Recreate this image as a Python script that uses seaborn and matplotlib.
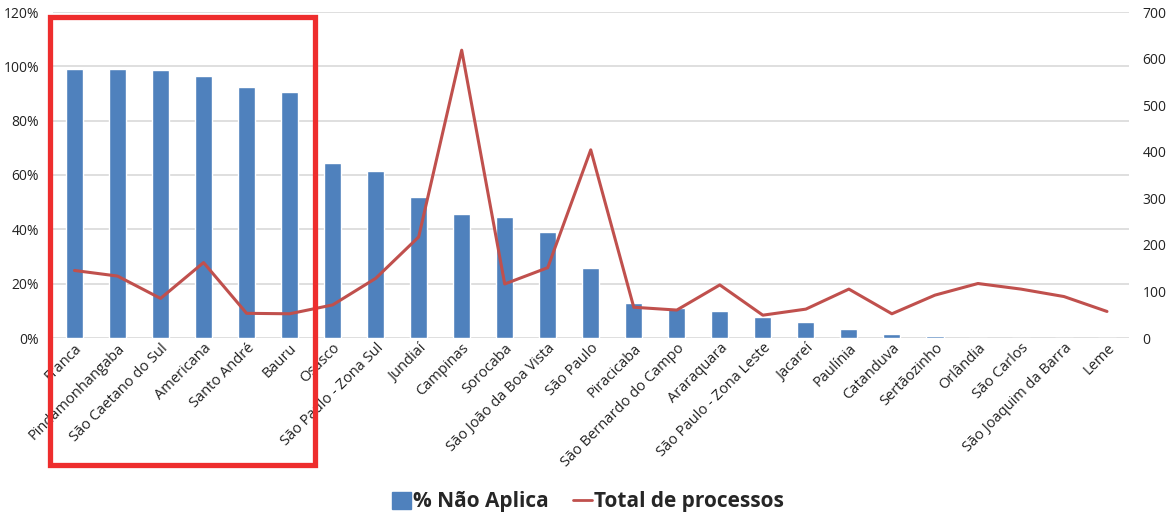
import matplotlib
matplotlib.use("Agg")
import matplotlib.pyplot as plt
import seaborn as sns
import numpy as np
import pandas as pd
from matplotlib.patches import Patch, Rectangle
from matplotlib.lines import Line2D
from matplotlib.ticker import FuncFormatter, MultipleLocator

cities = ["Franca", "Pindamonhangaba", "São Caetano do Sul", "Americana", "Santo André",
          "Bauru", "Osasco", "São Paulo - Zona Sul", "Jundiaí", "Campinas", "Sorocaba",
          "São João da Boa Vista", "São Paulo", "Piracicaba", "São Bernardo do Campo",
          "Araraquara", "São Paulo - Zona Leste", "Jacareí", "Paulínia", "Catanduva",
          "Sertãozinho", "Orlândia", "São Carlos", "São Joaquim da Barra", "Leme"]
pct_nao_aplica = [99.0, 99.0, 98.6, 96.6, 92.4, 90.4, 64.4, 61.3, 51.9, 45.6, 44.5,
                  38.9, 25.7, 12.9, 11.0, 9.9, 7.6, 5.9, 3.3, 1.6, 0.6, 0.0, 0.0, 0.0, 0.0]
total_processos = [145, 133, 85, 162, 53, 52, 71, 128, 217, 618, 116, 151, 404, 66, 60,
                   114, 49, 62, 105, 52, 92, 117, 105, 89, 57]

BAR = "#4F81BD"
LINE = "#C0504D"
FONT = "Open Sans"

sns.set_theme(style="white")
plt.rcParams["font.family"] = [FONT, "DejaVu Sans"]

df = pd.DataFrame({"city": cities, "pct": pct_nao_aplica, "total": total_processos})

fig = plt.figure(figsize=(11.71, 5.15), dpi=100)
ax = fig.add_axes([53 / 1171, 1 - 338 / 515, (1128.5 - 53) / 1171, (338 - 12) / 515])

sns.barplot(data=df, x="city", y="pct", order=cities, color=BAR, width=0.4,
            saturation=1, ax=ax, zorder=2)
ax.set_ylim(0, 120)
ax.yaxis.set_major_locator(MultipleLocator(20))
ax.yaxis.set_major_formatter(FuncFormatter(lambda v, p: f"{v:.0f}%"))
ax.grid(axis="y", color="#D9D9D9", linewidth=1.2, zorder=0)
ax.set_axisbelow(True)
for s in ax.spines.values():
    s.set_visible(False)
ax.set_xlabel("")
ax.set_ylabel("")
ax.tick_params(axis="y", length=0, labelsize=10, pad=10, labelcolor="#222222")
ax.tick_params(axis="x", length=0, labelsize=10.5, pad=2, labelcolor="#222222")

ax2 = ax.twinx()
sns.pointplot(data=df, x="city", y="total", order=cities, color=LINE, markers="",
              linewidth=2.2, errorbar=None, ax=ax2)
ax2.set_ylim(0, 700)
ax2.yaxis.set_major_locator(MultipleLocator(100))
ax2.set_xlim(-0.5, len(cities) - 0.5)
ax.set_xlim(-0.5, len(cities) - 0.5)
for s in ax2.spines.values():
    s.set_visible(False)
ax2.set_ylabel("")
ax2.set_xlabel("")
ax2.grid(False)
ax2.tick_params(axis="y", length=0, labelsize=10, pad=10, labelcolor="#222222")
ax2.tick_params(axis="x", bottom=False, labelbottom=False)

ax.set_xticks(range(len(cities)))
ax.set_xticklabels(cities, rotation=45, ha="right", rotation_mode="anchor")

handles = [Patch(facecolor=BAR, edgecolor=BAR),
           Line2D([0], [0], color=LINE, linewidth=2)]
fig.legend(handles, ["% Não Aplica", "Total de processos"], loc="center",
           bbox_to_anchor=(588 / 1171, 1 - 502 / 515), ncol=2, frameon=False,
           prop={"family": [FONT, "DejaVu Sans"], "weight": "bold", "size": 15},
           handlelength=0.9, handleheight=0.9, handletextpad=0.1, columnspacing=1.2)

fig.patches.append(Rectangle((50 / 1171, 1 - 465 / 515), 265 / 1171, 448 / 515,
                             transform=fig.transFigure, fill=False,
                             edgecolor="#EE2D2D", linewidth=3.8, zorder=10))

fig.savefig("out.png", dpi=100, facecolor="white")
